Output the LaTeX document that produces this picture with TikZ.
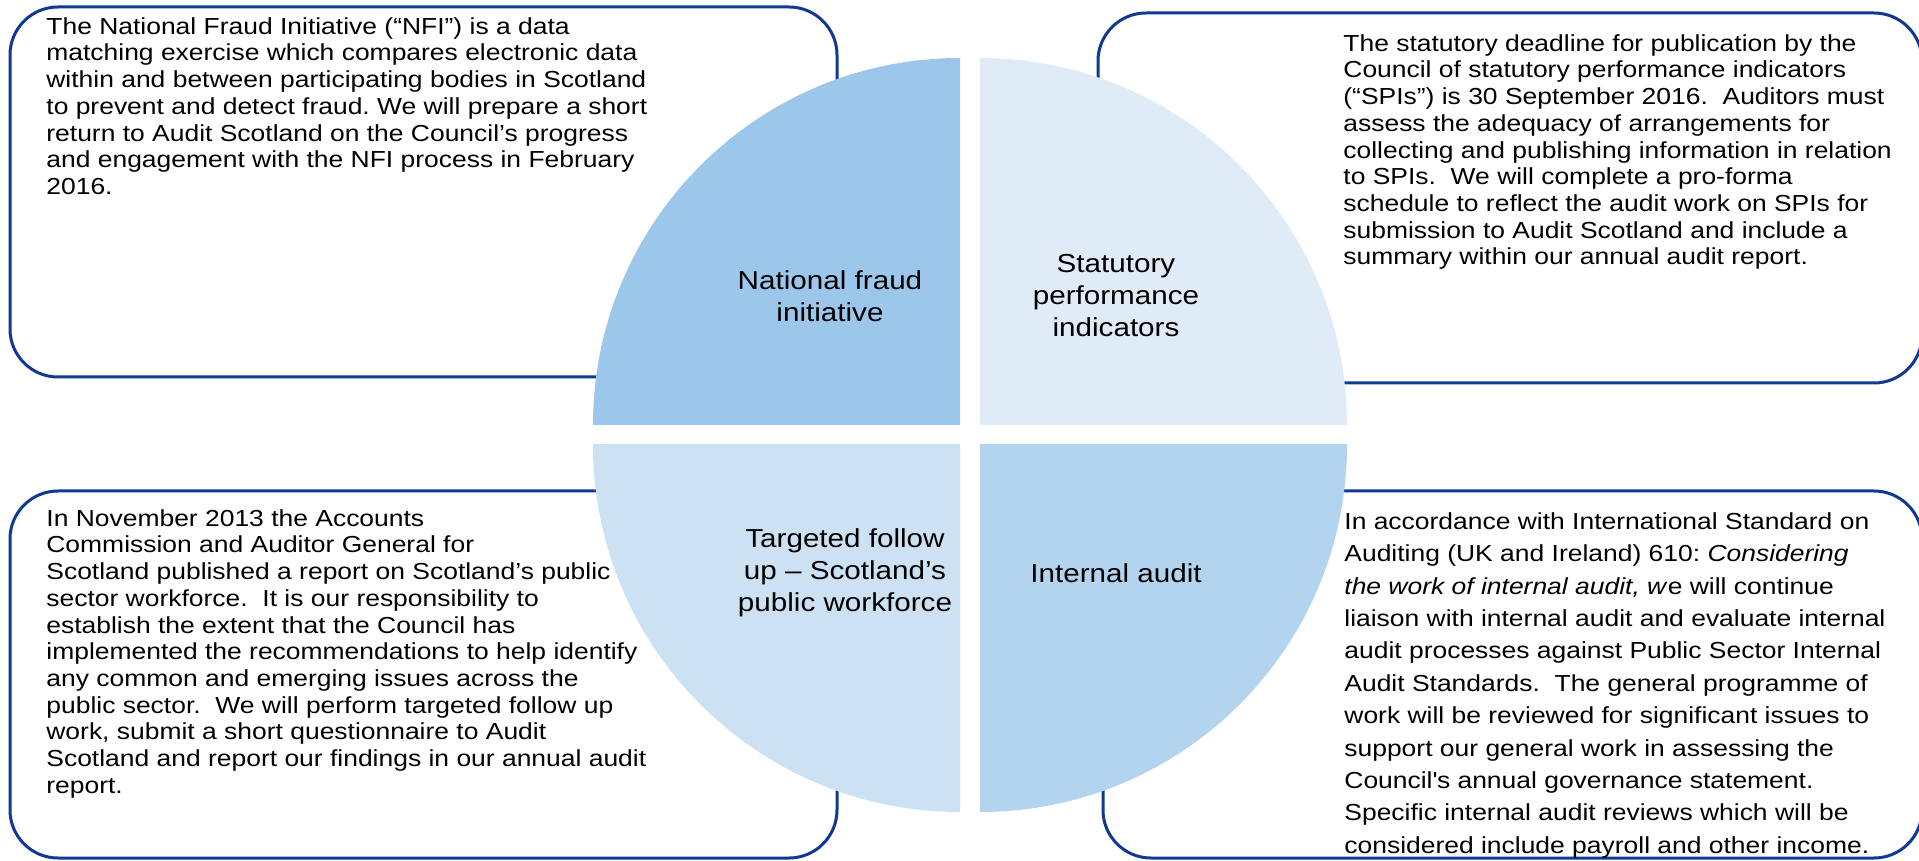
\documentclass[tikz,border=0pt]{standalone}
\usepackage{fontspec}
\setmainfont{Liberation Sans}[FakeStretch=1.14]
\usetikzlibrary{positioning}
\frenchspacing

\definecolor{borde}{RGB}{16,58,146}
\definecolor{nfi}{RGB}{156,198,234}
\definecolor{spi}{RGB}{223,236,248}
\definecolor{tfu}{RGB}{204,226,243}
\definecolor{ia}{RGB}{178,212,238}

\tikzset{
  caja/.style={draw=borde, line width=1.5pt, rounded corners=24pt, fill=white},
  texto/.style={anchor=north west, inner sep=0pt, align=left,
    font=\fontsize{11.6}{13.35}\selectfont},
  etiqueta/.style={align=center, inner sep=0pt,
    font=\fontsize{13}{16}\selectfont},
}

\begin{document}
\begin{tikzpicture}[x=0.5pt, y=-0.5pt]
    \useasboundingbox (0,0) rectangle (1919,861);

    % Dibuja las cuatro cajas
    \draw[caja] (10,7) rectangle (837,377);
    \draw[caja] (1098,13) rectangle (1922,383);
    \draw[caja] (10,491) rectangle (837,858);
    \draw[caja] (1103,491) rectangle (1922,858);

    % Dibuja los cuadrantes del circulo
    \begin{scope}
        \clip (593,58) rectangle (960,425);
        \fill[nfi] (960,425) circle (367);
    \end{scope}
    \begin{scope}
        \clip (980,58) rectangle (1347,425);
        \fill[spi] (980,425) circle (367);
    \end{scope}
    \begin{scope}
        \clip (593,445) rectangle (960,812);
        \fill[tfu] (960,445) circle (367);
    \end{scope}
    \begin{scope}
        \clip (980,445) rectangle (1347,812);
        \fill[ia] (980,445) circle (367);
    \end{scope}

    % Etiquetas de los cuadrantes
    \node[etiqueta] (nfilabel) at (830,296) {National fraud\\initiative};
    \node[etiqueta] (spilabel) at (1116,296) {Statutory\\performance\\indicators};
    \node[etiqueta] (tfulabel) at (845,573) {Targeted follow\\up – Scotland’s\\public workforce};
    \node[etiqueta] (ialabel) at (1116,573) {Internal audit};

    % Textos de las cajas
    \node[texto] (nfitext) at (46,17) {The National Fraud Initiative (“NFI”) is a data\\
        matching exercise which compares electronic data\\
        within and between participating bodies in Scotland\\
        to prevent and detect fraud. We will prepare a short\\
        return to Audit Scotland on the Council’s progress\\
        and engagement with the NFI process in February\\
        2016.};
    \node[texto] (spitext) at (1343,34) {The statutory deadline for publication by the\\
        Council of statutory performance indicators\\
        (“SPIs”) is 30 September 2016. \ Auditors must\\
        assess the adequacy of arrangements for\\
        collecting and publishing information in relation\\
        to SPIs. \ We will complete a pro-forma\\
        schedule to reflect the audit work on SPIs for\\
        submission to Audit Scotland and include a\\
        summary within our annual audit report.};
    \node[texto] (tfutext) at (46,509) {In November 2013 the Accounts\\
        Commission and Auditor General for\\
        Scotland published a report on Scotland’s public\\
        sector workforce. \ It is our responsibility to\\
        establish the extent that the Council has\\
        implemented the recommendations to help identify\\
        any common and emerging issues across the\\
        public sector. \ We will perform targeted follow up\\
        work, submit a short questionnaire to Audit\\
        Scotland and report our findings in our annual audit\\
        report.};
    \node[texto, font=\fontsize{11.6}{16.2}\selectfont] (iatext) at (1344,512) {In accordance with International Standard on\\
        Auditing (UK and Ireland) 610: \textit{Considering}\\
        \textit{the work of internal audit, w}e will continue\\
        liaison with internal audit and evaluate internal\\
        audit processes against Public Sector Internal\\
        Audit Standards. \ The general programme of\\
        work will be reviewed for significant issues to\\
        support our general work in assessing the\\
        Council\textquotesingle s annual governance statement.\\
        Specific internal audit reviews which will be\\
        considered include payroll and other income.};
\end{tikzpicture}
\end{document}
